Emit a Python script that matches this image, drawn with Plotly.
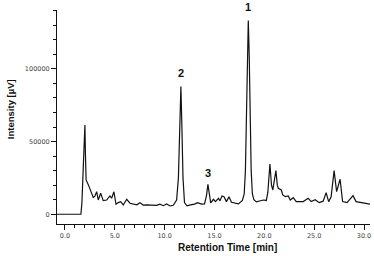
import plotly.graph_objects as go

# Chromatogram
time_min = [-0.8, 1.6, 1.7, 1.82, 1.9, 1.95, 2.0, 2.05, 2.12, 2.35, 2.6, 2.84, 3.0, 3.18, 3.34,
            3.58, 3.84, 4.18, 4.51, 4.68, 4.91, 5.12, 5.35, 5.59, 5.85, 6.19, 6.52, 6.85, 7.2,
            7.52, 7.85, 8.19, 8.86, 9.2, 9.53, 9.86, 10.2, 10.53, 10.86, 11.2, 11.38, 11.53,
            11.63, 11.73, 11.84, 11.99, 12.24, 12.6, 13.0, 13.3, 13.7, 14.0, 14.2, 14.34, 14.48,
            14.62, 14.9, 15.1, 15.4, 15.55, 15.75, 15.95, 16.2, 16.45, 16.7, 17.0, 17.4, 17.8,
            17.98, 18.1, 18.2, 18.3, 18.39, 18.48, 18.58, 18.68, 18.8, 18.95, 19.2, 19.6, 19.9,
            20.2, 20.35, 20.56, 20.72, 20.85, 21.0, 21.16, 21.3, 21.4, 21.7, 21.85, 22.1, 22.4,
            22.6, 22.9, 23.2, 23.9, 24.4, 24.7, 25.1, 25.5, 25.9, 26.2, 26.45, 26.7, 27.0, 27.25,
            27.6, 27.85, 28.3, 28.9, 29.2, 30.0, 30.6]
intensity_uv = [0, 0, 8000, 30000, 46500, 44000, 61400, 42000, 23600, 20200, 15500, 11600, 12500,
                15500, 9800, 14400, 9400, 9800, 12600, 11000, 15500, 6900, 8000, 8700, 6400, 10300,
                7600, 7100, 6500, 8000, 6300, 6400, 5900, 6100, 6900, 5900, 7100, 5700, 6200, 9800,
                25000, 70000, 87800, 60000, 25000, 8000, 5800, 6500, 7000, 8000, 7000, 7100, 13000,
                20600, 13000, 7800, 10300, 8700, 11000, 9200, 12600, 12100, 8700, 12100, 8200, 7500,
                7100, 9500, 14000, 30000, 60000, 110000, 133200, 110000, 62000, 30000, 14000, 10000,
                8500, 9200, 9800, 9500, 15000, 34600, 20000, 16700, 22000, 30000, 20000, 17900,
                16700, 13300, 12100, 12600, 9800, 11400, 8700, 8700, 11000, 8700, 10000, 8000, 9000,
                14900, 8700, 12000, 30000, 15600, 24100, 8700, 8000, 12800, 8700, 7600, 6900]

peak_labels = ["1", "2", "3"]
peak_times = [18.39, 11.63, 14.34]
peak_heights = [133200, 87800, 20600]
label_shifts = [14, 14, 11]

x_tickvals = [0, 5, 10, 15, 20, 25, 30]
y_tickvals = [0, 50000, 100000]

x_title = "Retention Time [min]"
y_title = "Intensity [µV]"

fig = go.Figure()
fig.add_trace(go.Scatter(x=time_min, y=intensity_uv, mode="lines",
                         line=dict(color="#111111", width=1.2), showlegend=False,
                         hoverinfo="skip"))

bold_font = dict(family="Liberation Sans, Arial", color="#111111")
for lab, t, h, s in zip(peak_labels, peak_times, peak_heights, label_shifts):
    fig.add_annotation(x=t, y=h, text="<b>" + lab + "</b>", showarrow=False, yshift=s,
                       font=dict(size=11, **bold_font), xanchor="center", yanchor="middle")

fig.add_annotation(xref="paper", yref="paper", x=0.546, y=-0.112, text="<b>" + x_title + "</b>",
                   showarrow=False, xanchor="center", yanchor="middle",
                   font=dict(size=10, **bold_font))
fig.add_annotation(xref="paper", yref="paper", x=-0.150, y=0.537, text="<b>" + y_title + "</b>",
                   showarrow=False, xanchor="center", yanchor="middle", textangle=-90,
                   font=dict(size=9.5, **bold_font))

fig.update_layout(
    width=374, height=256,
    margin=dict(l=57, r=4, t=10, b=32, autoexpand=False),
    paper_bgcolor="white", plot_bgcolor="white",
    font=dict(family="DejaVu Sans", size=6.5, color="#444444"),
)
fig.update_xaxes(
    range=[-0.8, 30.6], tickvals=x_tickvals, tickformat=".1f", automargin=False,
    showline=True, linecolor="#111111", linewidth=1, showgrid=False, zeroline=False,
    ticks="outside", ticklen=5, tickcolor="#111111",
    minor=dict(dtick=1, ticks="outside", ticklen=3, tickcolor="#111111", showgrid=False),
)
fig.update_yaxes(
    range=[-6700, 140500], tickvals=y_tickvals, tickformat="d", automargin=False,
    showline=True, linecolor="#111111", linewidth=1, showgrid=False, zeroline=False,
    ticks="outside", ticklen=5, tickcolor="#111111",
    minor=dict(dtick=10000, tick0=0, ticks="outside", ticklen=3, tickcolor="#111111", showgrid=False),
)

fig.write_html("out.html", config={"displayModeBar": False},
               post_script="document.body.style.margin='0';document.body.style.overflow='hidden';")
